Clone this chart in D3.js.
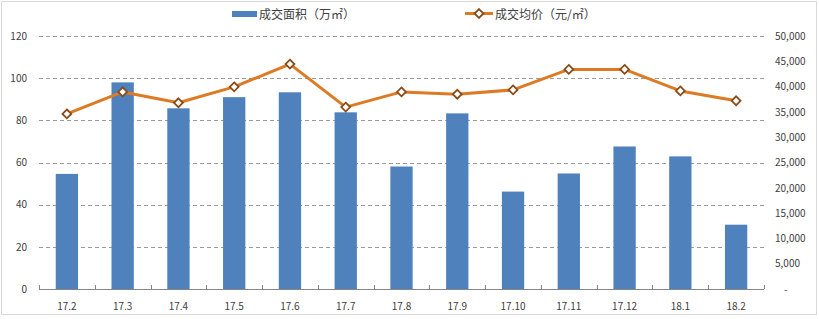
<!DOCTYPE html>
<html><head><meta charset="utf-8">
<script src="https://cdn.jsdelivr.net/npm/d3@7/dist/d3.min.js"></script>
<style>body{margin:0;background:#fff}svg{display:block}text{font-family:"Noto Sans CJK SC","Noto Sans",sans-serif}</style>
</head><body><svg id="c" width="819" height="319"></svg>
<script>
const categories = ["17.2","17.3","17.4","17.5","17.6","17.7","17.8","17.9","17.10","17.11","17.12","18.1","18.2"];
const areaValues = [54.6,98,85.7,91,93.3,83.8,58.1,83.3,46.2,54.8,67.6,62.9,30.5];
const priceValues = [34600,38950,36800,39950,44450,35950,38950,38500,39350,43400,43400,39150,37200];
const leftTicks = [0,20,40,60,80,100,120];
const rightTicks = [0,5000,10000,15000,20000,25000,30000,35000,40000,45000,50000];
const seriesNames = ["成交面积（万㎡）","成交均价（元/㎡）"];

const svg = d3.select("#c");
const L = 39, R = 764, T = 36, B = 289;
const barColor = "#4f81bd", lineColor = "#dc7b24", markerStroke = "#8a4a17";

svg.append("rect").attr("x",1.5).attr("y",1.5).attr("width",815).attr("height",313)
  .attr("fill","#fff").attr("stroke","#d9d9d9");

const x = d3.scaleBand().domain(categories).range([L,R]).paddingInner(0.6).paddingOuter(0.3);
const xc = d3.scaleBand().domain(categories).range([L,R]);
const yL = d3.scaleLinear().domain([0,120]).range([B,T]);
const yR = d3.scaleLinear().domain([0,50000]).range([B,T]);

// gridlines
svg.append("g").selectAll("line").data(leftTicks.filter(d=>d>0)).join("line")
  .attr("x1",L).attr("x2",R).attr("y1",d=>Math.round(yL(d))+0.5).attr("y2",d=>Math.round(yL(d))+0.5)
  .attr("stroke","#9a9a9a").attr("stroke-dasharray","4,3");

// left axis labels
const la = svg.append("g").attr("transform",`translate(${L-12},0)`)
  .call(d3.axisLeft(yL).tickValues(leftTicks).tickSize(0).tickPadding(0));
la.select(".domain").remove();
la.selectAll("text").attr("font-size",10).attr("fill","#404040").attr("font-family","'Liberation Sans',sans-serif");

// right axis labels
const ra = svg.append("g").attr("transform",`translate(${R+11},0)`)
  .call(d3.axisRight(yR).tickValues(rightTicks).tickSize(0).tickPadding(0)
    .tickFormat(d=> d===0 ? "-" : d3.format(",")(d)));
ra.select(".domain").remove();
ra.selectAll("text").attr("font-size",10).attr("fill","#404040").attr("font-family","'Liberation Sans',sans-serif");
ra.selectAll("text").filter(d=>d===0).attr("dx",9);

// bars
svg.append("g").selectAll("rect").data(categories).join("rect")
  .attr("x",d=>x(d)).attr("width",x.bandwidth())
  .attr("y",(d,i)=>yL(areaValues[i])).attr("height",(d,i)=>B-yL(areaValues[i]))
  .attr("fill",barColor);

// x axis
const xa = svg.append("g").attr("transform",`translate(0,${B})`)
  .call(d3.axisBottom(xc).tickSize(0).tickPadding(14));
xa.select(".domain").attr("stroke","#868686").attr("d",`M${L},0.5H${R}`);
xa.selectAll("text").attr("font-size",10).attr("fill","#404040").attr("font-family","'Liberation Sans',sans-serif");
const bounds = categories.map(c=>xc(c)).concat([R]);
svg.append("g").selectAll("line").data(bounds).join("line")
  .attr("x1",d=>Math.round(d)+0.5).attr("x2",d=>Math.round(d)+0.5).attr("y1",B-4).attr("y2",B)
  .attr("stroke","#868686");

// line
const line = d3.line().x((d,i)=>xc(categories[i])+xc.bandwidth()/2).y(d=>yR(d));
svg.append("path").datum(priceValues).attr("d",line).attr("fill","none")
  .attr("stroke",lineColor).attr("stroke-width",3).attr("stroke-linejoin","round");
const diamond = d3.symbol().type(d3.symbolDiamond2).size(50);
svg.append("g").selectAll("path").data(priceValues).join("path")
  .attr("d",diamond)
  .attr("transform",(d,i)=>`translate(${xc(categories[i])+xc.bandwidth()/2},${yR(d)})`)
  .attr("fill","#fff").attr("stroke",markerStroke).attr("stroke-width",1.8);

// legend
const lg = svg.append("g");
lg.append("rect").attr("x",232).attr("y",11).attr("width",25).attr("height",6).attr("fill",barColor);
lg.append("text").attr("x",259).attr("y",18.5).attr("font-size",12).attr("fill","#404040").text(seriesNames[0]);
lg.append("line").attr("x1",465).attr("x2",493).attr("y1",13.5).attr("y2",13.5).attr("stroke",lineColor).attr("stroke-width",3);
lg.append("path").attr("d",diamond).attr("transform","translate(479,13.5)").attr("fill","#fff").attr("stroke",markerStroke).attr("stroke-width",1.8);
lg.append("text").attr("x",495).attr("y",18.5).attr("font-size",12).attr("fill","#404040").text(seriesNames[1]);
</script></body></html>
